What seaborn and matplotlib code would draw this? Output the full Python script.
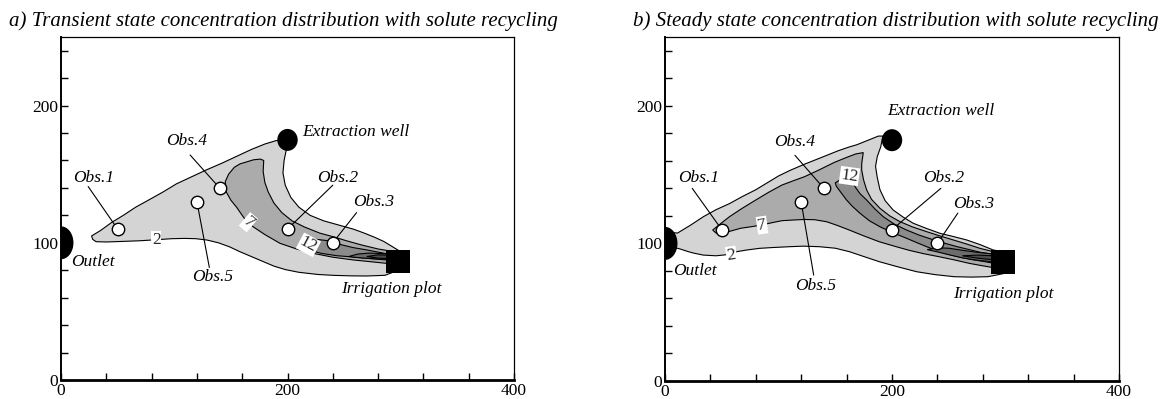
import matplotlib
matplotlib.use("Agg")
import matplotlib.pyplot as plt
import seaborn as sns
import pandas as pd
from matplotlib.patches import Ellipse, Rectangle, Polygon

sns.set_theme(style="white")
plt.rcParams['font.family'] = ['Liberation Serif', 'DejaVu Serif']

# ---------------------------------------------------------------- data
panel_titles = [
    "a) Transient state concentration distribution with solute recycling",
    "b) Steady state concentration distribution with solute recycling",
]

# observation wells (same layout in both panels)
obs_names = ["Obs.1", "Obs.2", "Obs.3", "Obs.4", "Obs.5"]
obs_x = [50, 200, 240, 140, 120]
obs_y = [110, 110, 100, 140, 130]

# wells, outlet and irrigation plot
well_xy = (200, 175)
outlet_xy = (0, 100)
plot_x0, plot_x1 = 287, 308
plot_y0, plot_y1 = 78, 95

contour_levels = [2, 7, 12, 17, 22]

# concentration iso-lines (closed outlines of the region above each level)
a_level2 = [(27, 105), (35, 109), (45, 115), (55, 120), (66, 126), (77, 131), (90, 137), (102, 143),
            (115, 148), (128, 153), (142, 158), (155, 163), (168, 168), (180, 172), (190, 174.5),
            (197, 175), (199, 168), (197, 160), (196, 151), (198, 142), (203, 133), (210, 126),
            (220, 120), (232, 116), (245, 113), (258, 110), (268, 107), (277, 104), (285, 101),
            (292, 97.5), (298, 94.5), (298, 80), (286, 76.3), (270, 75.8), (256, 75.9), (240, 76.3),
            (227, 76.9), (210, 78.5), (198, 80.5), (188, 83), (178, 86.5), (168, 90), (158, 93.5),
            (149, 97), (139, 100), (129, 102), (119, 103), (109, 103.2), (98, 103), (87, 102.4),
            (70, 101.5), (54, 101), (40, 100.6), (31, 100.8), (28, 102.5)]
a_level7 = [(164, 159), (170, 160.5), (176, 161), (179, 160), (178.5, 152), (180, 144), (183, 137),
            (188, 129), (195, 122), (204, 116), (215, 111.5), (228.7, 107), (240, 104.5),
            (252, 101.5), (265, 98.5), (280, 95.5), (298, 93), (298, 84.5), (287.6, 85),
            (270, 86.5), (258, 87.5), (240, 89.5), (222.8, 92.3), (208, 95.5), (193.4, 99.6),
            (180, 106), (170, 111.5), (164, 115.4), (160, 120), (155, 126), (150, 131), (146, 137),
            (145, 144.5), (148, 150), (153, 155), (158, 157.5)]
a_level12 = [(212, 99.5), (218, 102.5), (225.8, 102.5), (236, 101.5), (246.4, 98.8), (258, 96.5),
             (270, 94.8), (287.6, 92), (298, 91.5), (298, 87), (287.6, 87.5), (270, 88.7),
             (256, 89.8), (243.4, 90.6), (230, 92.3), (222.8, 93.8), (215, 97)]
a_level17 = [(254, 90), (262, 91.8), (272, 92.5), (287, 92), (298, 91.2), (298, 87.8), (287, 88),
             (272, 88.6), (262, 89.2)]
a_level22 = [(270, 90), (280, 91.2), (298, 90.8), (298, 88.3), (280, 88.8)]

b_level2 = [(5, 108), (11, 107.5), (22, 113), (34, 119.5), (45, 124.5), (57, 129), (68, 134),
            (80, 139), (90, 144), (100, 149), (110, 153), (123, 157.6), (138, 162.5),
            (152.5, 167.3), (162, 170), (169, 171.7), (176, 174), (182, 176), (188, 178),
            (192, 178), (190, 170), (187, 163), (185.5, 156), (187, 148), (189.4, 139), (194, 131),
            (201, 124.3), (210, 119), (218.8, 114.6), (230, 111), (242.3, 107.3), (254, 105),
            (265.8, 102.5), (278, 99), (289.2, 95.2), (298, 94), (298, 78), (284.5, 75.8),
            (270, 75.5), (254.8, 75.8), (238, 77.3), (221.8, 79.4), (205, 83), (188.8, 86.7),
            (175, 90.5), (162.4, 94), (150, 96.5), (136, 97.6), (122, 98), (109.6, 97.6),
            (95, 97), (83.2, 96.4), (72, 95.2), (63.4, 94), (56.8, 92), (45, 91), (33.7, 91.5),
            (25, 93), (20.5, 94), (15, 95.5), (11, 96.5), (5, 95)]
b_level7 = [(42, 109.7), (50, 115), (56.8, 119.4), (68, 125.5), (79.9, 131.5), (91, 137),
            (103, 142.4), (113, 145.5), (123, 148.5), (136, 153.5), (149, 158.8), (160, 162.5),
            (168, 165), (174.7, 166), (173.3, 158), (173.3, 153.3), (175, 146), (177.7, 138.8),
            (182, 132), (189.4, 125.5), (198, 120), (207, 115.8), (218, 112), (230.6, 108.5),
            (242, 105.5), (254, 102.5), (266, 99.5), (277.5, 96.4), (289.2, 94), (298, 93.5),
            (298, 82), (287.8, 82.6), (278, 84), (268, 85.5), (255, 88), (241.6, 90.3), (228, 92.5),
            (215, 95), (202, 98), (188.8, 101.2), (175, 105.5), (162.4, 109.7), (152, 113),
            (142.6, 115.7), (132, 117.2), (122.8, 117.4), (113, 117), (103, 116.5), (94, 115),
            (84.8, 113.3), (75, 112), (66.7, 111), (58, 109), (50, 107), (45, 107.5)]
b_level12 = [(150, 144), (157, 147.5), (163, 149.5), (167.4, 141.2), (172, 136), (177.7, 131.5),
             (185, 125), (192.3, 119.4), (202, 114), (212.9, 109.7), (224, 106), (235, 103),
             (247, 100), (258, 97.5), (268, 95.5), (278, 93.5), (290, 92), (298, 91.5), (298, 84.5),
             (290, 85.5), (280, 87), (270, 88.3), (260, 90), (250, 92), (240, 94.5), (230.6, 97.6),
             (222, 100.5), (212.9, 103.7), (200, 108), (189.4, 112.1), (180, 116.5),
             (171.8, 121.9), (165, 127), (160, 131.5), (155, 137), (151, 141.5)]
b_level17 = [(231, 95.5), (240, 96.8), (250, 96.5), (262, 95), (275, 93.5), (290, 92.2), (298, 92),
             (298, 86.5), (290, 86.5), (275, 87.8), (262, 89.5), (250, 91.8), (240, 93.8)]
b_level22 = [(262, 91), (275, 91.5), (290, 91), (298, 90.8), (298, 88), (290, 88), (275, 89.3)]

# labelled iso-lines: (value, x, y, angle)
a_contour_labels = [("2", 84, 102.4, 0), ("7", 165.5, 115, -40), ("12", 218.5, 98.5, -28)]
b_contour_labels = [("2", 58.5, 91.5, 8), ("7", 85.5, 113.3, 8), ("12", 162.5, 149, -8)]

# ---------------------------------------------------------------- layout
level_colors = ["#d4d4d4", "#ababab", "#8b8b8b", "#6c6c6c", "#4c4c4c"]

a_text = {
    "Obs.1": (29, 147.5), "Obs.4": (111, 174), "Obs.2": (244, 147.5), "Obs.3": (276, 129.5),
    "Obs.5": (134, 75),
}
a_leader = {
    "Obs.1": (24, 141), "Obs.4": (114, 164), "Obs.2": (240, 142), "Obs.3": (261, 122),
    "Obs.5": (131, 82),
}
b_text = {
    "Obs.1": (29.5, 147.5), "Obs.4": (114.5, 174), "Obs.2": (245.5, 147.5), "Obs.3": (272, 128.5),
    "Obs.5": (133, 69),
}
b_leader = {
    "Obs.1": (24, 140), "Obs.4": (114.5, 164), "Obs.2": (243, 140), "Obs.3": (258, 122),
    "Obs.5": (131, 77),
}
a_places = {"Outlet": (9, 86, "left"), "Irrigation plot": (292, 66.5, "center"),
            "Extraction well": (213, 180.5, "left")}
b_places = {"Outlet": (7, 80, "left"), "Irrigation plot": (298.5, 63.5, "center"),
            "Extraction well": (196, 196, "left")}

fig = plt.figure(figsize=(11.66, 3.99), dpi=100)
fig.patch.set_facecolor("white")
ax_a = fig.add_axes([61 / 1166, 19 / 399, 453 / 1166, 343 / 399])
ax_b = fig.add_axes([665 / 1166, 18 / 399, 454 / 1166, 344 / 399])

panels = [
    (ax_a, [a_level2, a_level7, a_level12, a_level17, a_level22], a_contour_labels,
     a_text, a_leader, a_places, 283),
    (ax_b, [b_level2, b_level7, b_level12, b_level17, b_level22], b_contour_labels,
     b_text, b_leader, b_places, 896),
]

obs_df = pd.DataFrame({"name": obs_names, "x": obs_x, "y": obs_y})
label_font = dict(fontsize=12.5, style="italic", color="black")

for i, (ax, outlines, clabels, otext, oleader, places, title_x) in enumerate(panels):
    ax.set_facecolor("white")
    ax.set_xlim(0, 400)
    ax.set_ylim(0, 250)

    # filled iso-concentration bands
    for lvl, pts, col in zip(contour_levels, outlines, level_colors):
        ax.add_patch(Polygon(pts, closed=True, facecolor=col, edgecolor="black",
                             linewidth=0.8, zorder=1 + lvl * 0.01))

    for txt, x, y, ang in clabels:
        ax.text(x, y, txt, fontsize=12.5, ha="center", va="center", rotation=ang,
                rotation_mode="anchor", zorder=3,
                bbox=dict(boxstyle="square,pad=0.05", facecolor="white", edgecolor="none"))

    # leader lines to the observation wells
    for name, px, py in zip(obs_names, obs_x, obs_y):
        lx, ly = oleader[name]
        ax.plot([lx, px], [ly, py], color="black", linewidth=0.8, zorder=4)
        tx, ty = otext[name]
        ax.text(tx, ty, name, ha="center", va="center", zorder=6, **label_font)

    sns.scatterplot(data=obs_df, x="x", y="y", ax=ax, s=80, color="white",
                    edgecolor="black", linewidth=1.0, zorder=5, legend=False)

    # extraction well, outlet and irrigation plot
    ax.add_patch(Ellipse(well_xy, 18, 16, facecolor="black", edgecolor="none", zorder=7))
    ax.add_patch(Ellipse(outlet_xy, 22, 24, facecolor="black", edgecolor="none", zorder=7))
    ax.add_patch(Rectangle((plot_x0, plot_y0), plot_x1 - plot_x0, plot_y1 - plot_y0,
                           facecolor="black", edgecolor="none", zorder=7))
    for name, (x, y, ha) in places.items():
        ax.text(x, y, name, ha=ha, va="center", zorder=8, **label_font)

    # axes frame and ticks
    ax.set_xticks(range(0, 401, 40))
    ax.set_xticklabels([str(v) if v % 200 == 0 else "" for v in range(0, 401, 40)])
    ax.set_yticks(range(0, 241, 20))
    ax.set_yticklabels([str(v) if v % 100 == 0 else "" for v in range(0, 241, 20)])
    ax.tick_params(direction="in", length=5, width=1, labelsize=12.5, colors="black",
                   pad=2, bottom=True, left=True, top=False, right=False)
    ax.set_xlabel("")
    ax.set_ylabel("")
    for side, lw in [("bottom", 2.0), ("left", 1.4), ("top", 0.9), ("right", 0.9)]:
        ax.spines[side].set_visible(True)
        ax.spines[side].set_color("black")
        ax.spines[side].set_linewidth(lw)
    ax.grid(False)

    fig.text(title_x / 1166, 1 - 26 / 399, panel_titles[i], ha="center", va="baseline",
             fontsize=15, style="italic", color="black")

fig.savefig("out.png", dpi=100, facecolor="white")
